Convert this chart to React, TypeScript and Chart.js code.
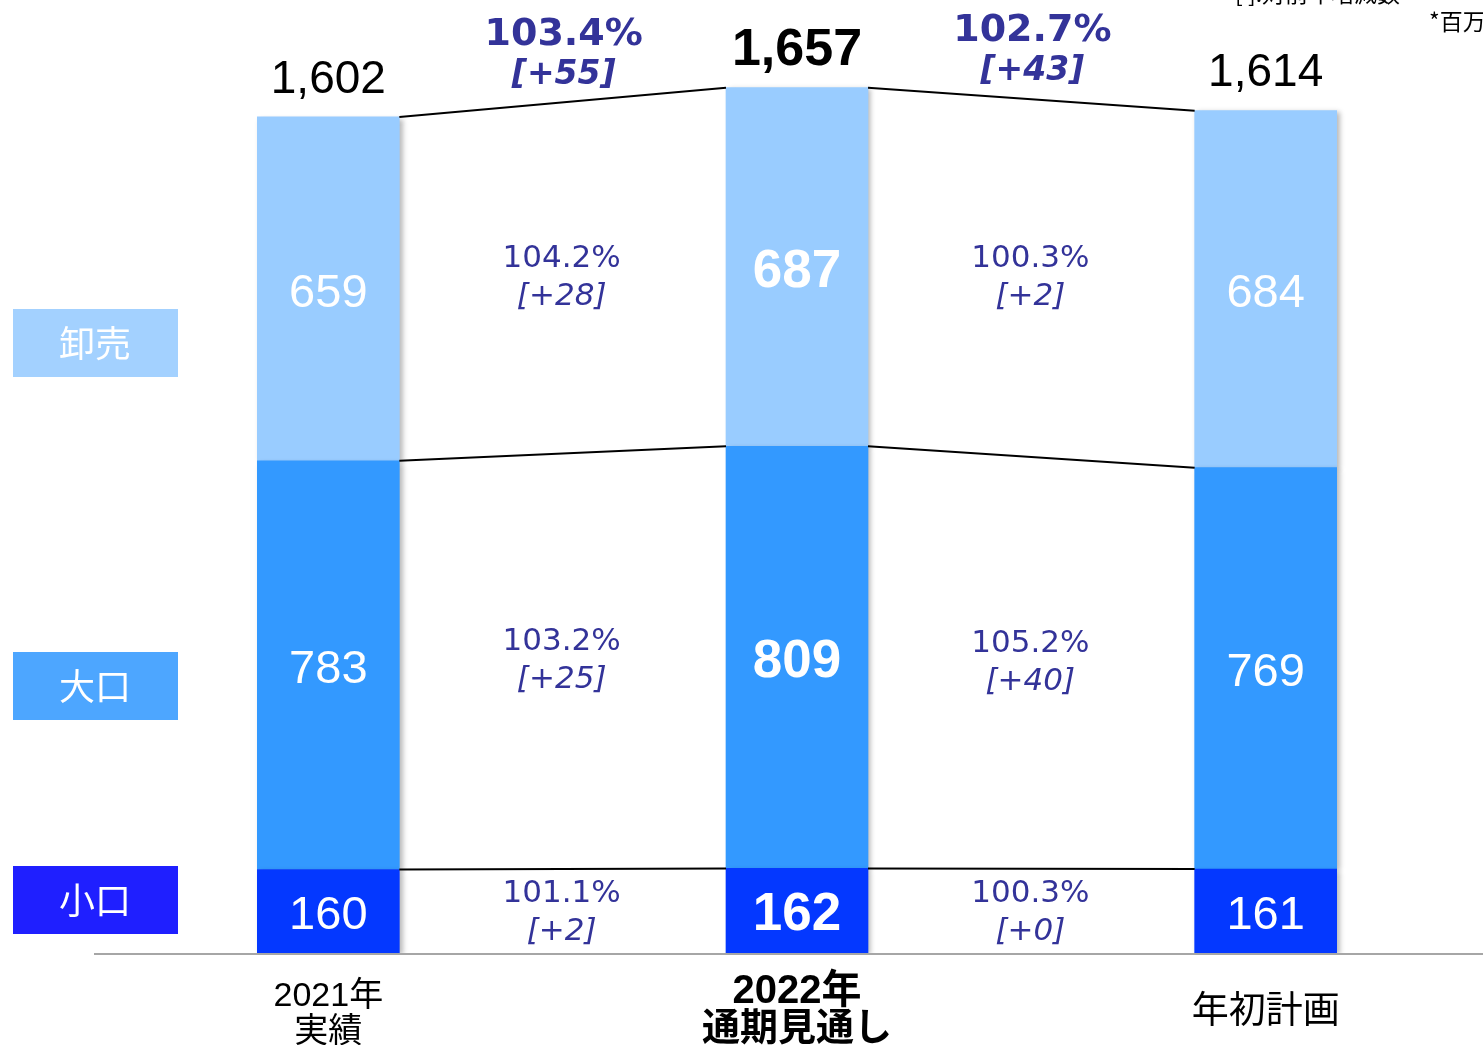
import React, { useEffect, useRef } from "react";
import { Chart, registerables } from "chart.js";

Chart.register(...registerables);

const categories = ["2021年\n実績", "2022年\n通期見通し", "年初計画"];
const smallLot = [160, 162, 161];
const largeLot = [783, 809, 769];
const wholesale = [659, 687, 684];
const totals = ["1,602", "1,657", "1,614"];
const seriesNames = ["小口", "大口", "卸売"];

const totalGrowth = ["103.4%", "102.7%"];
const totalDiff = ["[+55]", "[+43]"];
const wholesaleGrowth = ["104.2%", "100.3%"];
const wholesaleDiff = ["[+28]", "[+2]"];
const largeGrowth = ["103.2%", "105.2%"];
const largeDiff = ["[+25]", "[+40]"];
const smallGrowth = ["101.1%", "100.3%"];
const smallDiff = ["[+2]", "[+0]"];

const barColors = ["#0438FF", "#3399FF", "#99CCFF"];
const legendColors = ["#1F1FFF", "#4DA6FF", "#A3D1FF"];
const legendY = [900, 686, 343];

const NUM = "'Liberation Sans', Arial, 'Noto Sans CJK JP', sans-serif";
const PCT = "'DejaVu Sans', Verdana, sans-serif";
const JP = "'Liberation Sans', 'Noto Sans CJK JP', sans-serif";
const INDIGO = "#333399";

const annotPlugin = {
  id: "annot",
  beforeDatasetsDraw(chart: any) {
    const ctx = chart.ctx;
    ctx.save();
    ctx.shadowColor = "rgba(0,0,0,0.28)";
    ctx.shadowBlur = 5;
    ctx.shadowOffsetX = 3;
    ctx.shadowOffsetY = 2;
  },
  afterDatasetsDraw(chart: any) {
    const ctx = chart.ctx;
    ctx.restore();
    const area = chart.chartArea;
    const metas = [0, 1, 2].map((d) => chart.getDatasetMeta(d).data);
    const n = categories.length;

    // axis line
    ctx.save();
    ctx.strokeStyle = "#a6a6a6";
    ctx.lineWidth = 2;
    ctx.beginPath();
    ctx.moveTo(area.left, area.bottom + 1);
    ctx.lineTo(chart.width, area.bottom + 1);
    ctx.stroke();

    // connector lines
    ctx.strokeStyle = "#000";
    ctx.lineWidth = 2;
    for (let d = 0; d < 3; d++) {
      for (let i = 0; i < n - 1; i++) {
        const a = metas[d][i];
        const b = metas[d][i + 1];
        ctx.beginPath();
        ctx.moveTo(a.x + a.width / 2, a.y);
        ctx.lineTo(b.x - b.width / 2, b.y);
        ctx.stroke();
      }
    }

    ctx.textAlign = "center";
    ctx.textBaseline = "middle";

    // segment values
    const vals = [smallLot, largeLot, wholesale];
    for (let d = 0; d < 3; d++) {
      for (let i = 0; i < n; i++) {
        const el = metas[d][i];
        const bold = i === 1;
        ctx.fillStyle = "#fff";
        ctx.font = `${bold ? "bold " : ""}${bold ? 53 : 47}px ${NUM}`;
        ctx.fillText(String(vals[d][i]), el.x, (el.y + el.base) / 2 + 5);
      }
    }

    // totals
    for (let i = 0; i < n; i++) {
      const el = metas[2][i];
      const bold = i === 1;
      ctx.fillStyle = "#000";
      ctx.font = `${bold ? "bold " : ""}${bold ? 52 : 46}px ${NUM}`;
      ctx.fillText(totals[i], el.x, el.y - 37);
    }

    // between-column growth labels
    const growth = [smallGrowth, largeGrowth, wholesaleGrowth];
    const diffs = [smallDiff, largeDiff, wholesaleDiff];
    ctx.fillStyle = INDIGO;
    for (let d = 0; d < 3; d++) {
      for (let j = 0; j < n - 1; j++) {
        const a = metas[d][j];
        const b = metas[d][j + 1];
        const x = (a.x + b.x) / 2 - 1;
        const ym = ((a.y + a.base) / 2 + (b.y + b.base) / 2) / 2 + (d === 0 ? 2 : 0);
        ctx.font = `31px ${PCT}`;
        ctx.fillText(growth[d][j], x, ym - 19);
        ctx.font = `italic 31px ${PCT}`;
        ctx.fillText(diffs[d][j], x, ym + 19);
      }
    }

    // total growth labels
    for (let j = 0; j < n - 1; j++) {
      const a = metas[2][j];
      const b = metas[2][j + 1];
      const x = (a.x + b.x) / 2 + 1;
      const top = Math.min(a.y, b.y);
      ctx.font = `bold 38px ${PCT}`;
      ctx.fillText(totalGrowth[j], x, top - 53 - j * 4);
      ctx.font = `italic bold 33px ${PCT}`;
      ctx.fillText(totalDiff[j], x, top - 12 - j * 4);
    }

    // category labels
    ctx.fillStyle = "#000";
    for (let i = 0; i < n; i++) {
      const x = metas[0][i].x;
      const lines = categories[i].split("\n");
      if (i === 1) {
        ctx.font = `bold 40px ${JP}`;
        ctx.fillText(lines[0], x, area.bottom + 39);
        ctx.font = `bold 38px ${JP}`;
        ctx.fillText(lines[1], x, area.bottom + 77);
      } else if (lines.length === 2) {
        ctx.font = `34px ${JP}`;
        ctx.fillText(lines[0], x, area.bottom + 44);
        ctx.fillText(lines[1], x, area.bottom + 80);
      } else {
        ctx.font = `37px ${JP}`;
        ctx.fillText(lines[0], x, area.bottom + 60);
      }
    }

    // legend boxes
    for (let d = 0; d < 3; d++) {
      ctx.fillStyle = legendColors[d];
      ctx.fillRect(13, legendY[d] - 34, 165, 68);
      ctx.fillStyle = "#fff";
      ctx.font = `36px 'Noto Sans CJK JP', sans-serif`;
      ctx.fillText(seriesNames[d], 95, legendY[d]);
    }

    // top-right notes (clipped by the page edge)
    ctx.fillStyle = "#000";
    ctx.textAlign = "left";
    ctx.textBaseline = "alphabetic";
    ctx.font = `23px 'Noto Sans CJK JP', sans-serif`;
    ctx.fillText("[ ]:対前年増減数", 1235, 2);
    ctx.fillText("*百万ケース", 1429, 30);
    ctx.restore();
  },
};

export default function App() {
  const ref = useRef<HTMLCanvasElement>(null);
  useEffect(() => {
    if (!ref.current) return;
    const chart = new Chart(ref.current, {
      type: "bar",
      data: {
        labels: categories,
        datasets: [
          { label: seriesNames[0], data: smallLot, backgroundColor: barColors[0] },
          { label: seriesNames[1], data: largeLot, backgroundColor: barColors[1] },
          { label: seriesNames[2], data: wholesale, backgroundColor: barColors[2] },
        ],
      },
      options: {
        responsive: false,
        animation: false,
        devicePixelRatio: 1,
        layout: { padding: { left: 94, right: 0, top: 0, bottom: 92 } },
        datasets: { bar: { barThickness: 142, borderWidth: 0 } },
        scales: {
          x: { display: false, stacked: true },
          y: { display: false, stacked: true, min: 0, max: 1826 },
        },
        plugins: { legend: { display: false }, tooltip: { enabled: false } },
      },
      plugins: [annotPlugin],
    } as any);
    return () => chart.destroy();
  }, []);
  return (
    <div style={{ position: "fixed", left: 0, top: 0, width: 1500, height: 1045, background: "#fff" }}>
      <canvas ref={ref} width={1500} height={1045} style={{ display: "block" }} />
    </div>
  );
}
